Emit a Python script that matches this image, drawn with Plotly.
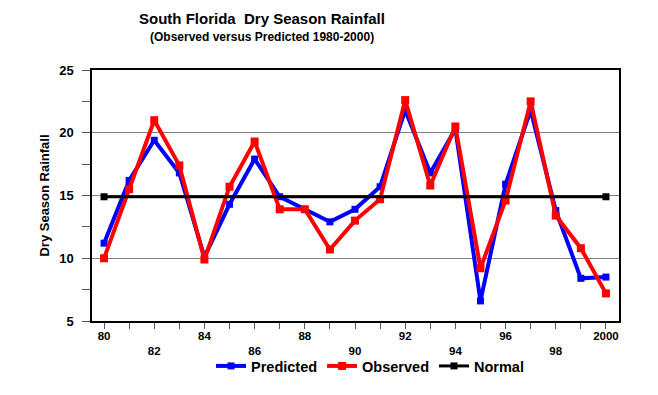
import plotly.graph_objects as go

years = list(range(1980, 2001))
predicted = [11.2, 16.2, 19.4, 16.8, 10.1, 14.3, 17.9, 14.9, 13.9, 12.9, 13.9,
             15.7, 21.8, 16.8, 20.3, 6.6, 15.9, 21.8, 13.8, 8.4, 8.5]
observed = [10.0, 15.5, 21.0, 17.4, 9.9, 15.7, 19.3, 13.9, 13.9, 10.7, 13.0,
            14.7, 22.6, 15.8, 20.5, 9.2, 14.6, 22.5, 13.4, 10.8, 7.2]
normal_years = [1980, 2000]
normal = [14.9, 14.9]

tick_years = list(range(1980, 2001, 2))
tick_text = ["80", "<br>82", "84", "<br>86", "88", "<br>90", "92", "<br>94",
             "96", "<br>98", "2000"]

FONT = "Liberation Sans, Arial, sans-serif"

fig = go.Figure()
fig.add_trace(go.Scatter(x=years, y=predicted, name="Predicted", mode="lines+markers",
                         line=dict(color="#0000FF", width=4),
                         marker=dict(symbol="square", size=7, color="#0000FF")))
fig.add_trace(go.Scatter(x=years, y=observed, name="Observed", mode="lines+markers",
                         line=dict(color="#FF0000", width=4),
                         marker=dict(symbol="square", size=8, color="#FF0000")))
fig.add_trace(go.Scatter(x=normal_years, y=normal, name="Normal", mode="lines+markers",
                         line=dict(color="#000000", width=3),
                         marker=dict(symbol="square", size=7, color="#000000")))

fig.update_layout(
    width=658, height=395,
    margin=dict(l=92, r=39, t=70, b=74, autoexpand=False),
    paper_bgcolor="white", plot_bgcolor="white",
    font=dict(family=FONT, color="black", size=12, weight="bold"),
    showlegend=True,
    legend=dict(orientation="h", x=370 / 658, xanchor="center", xref="container",
                y=1 - 366 / 395, yanchor="middle", yref="container",
                font=dict(size=14.5, weight="bold"),
                tracegroupgap=0, bgcolor="rgba(0,0,0,0)"),
    annotations=[
        dict(text="South Florida  Dry Season Rainfall", xref="paper", yref="paper",
             x=(262 - 92) / 527, y=1.0, yshift=52, xanchor="center", yanchor="middle",
             showarrow=False, font=dict(size=15, weight="bold")),
        dict(text="(Observed versus Predicted 1980-2000)", xref="paper", yref="paper",
             x=(262 - 92) / 527, y=1.0, yshift=33, xanchor="center", yanchor="middle",
             showarrow=False, font=dict(size=12, weight="bold")),
    ],
)

fig.update_xaxes(range=[1979.52, 2000.52], tickvals=tick_years, ticktext=tick_text,
                 ticks="outside", ticklen=6, tickcolor="#555555", automargin=False,
                 ticklabelstandoff=-3,
                 minor=dict(dtick=1, tick0=1980, ticks="outside", ticklen=6, tickcolor="#555555"),
                 showline=True, linecolor="black", linewidth=1.5, mirror=True,
                 showgrid=False, zeroline=False, tickfont=dict(size=11.5, weight="bold"))
fig.update_yaxes(range=[5, 25], dtick=5, tick0=5, ticks="outside", ticklen=8, tickcolor="#555555",
                 ticklabelstandoff=6,
                 minor=dict(dtick=2.5, tick0=5, ticks="outside", ticklen=8, tickcolor="#555555", showgrid=False),
                 showline=True, linecolor="black", linewidth=1.5, mirror=True, automargin=False,
                 showgrid=True, gridcolor="#808080", gridwidth=1, zeroline=False,
                 tickfont=dict(size=13, weight="bold"),
                 title=dict(text="Dry Season Rainfall", font=dict(size=13, weight="bold"), standoff=7))

fig.write_html("out.html", config={"displayModeBar": False},
               post_script="document.body.style.margin='0';")
